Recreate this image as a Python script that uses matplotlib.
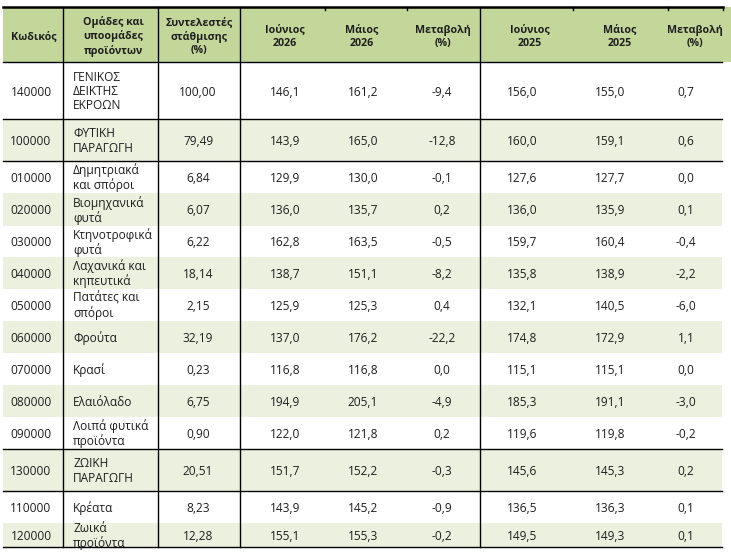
import matplotlib

matplotlib.use("Agg")

import matplotlib.pyplot as plt
from matplotlib.patches import Rectangle

plt.rcParams["font.family"] = ["Open Sans", "DejaVu Sans"]

# table content
codes = ["140000", "100000", "010000", "020000", "030000", "040000", "050000",
         "060000", "070000", "080000", "090000", "130000", "110000", "120000"]
groups = ["ΓΕΝΙΚΟΣ\nΔΕΙΚΤΗΣ\nΕΚΡΟΩΝ", "ΦΥΤΙΚΗ\nΠΑΡΑΓΩΓΗ", "Δημητριακά\nκαι σπόροι",
          "Βιομηχανικά\nφυτά", "Κτηνοτροφικά\nφυτά", "Λαχανικά και\nκηπευτικά",
          "Πατάτες και\nσπόροι", "Φρούτα", "Κρασί", "Ελαιόλαδο",
          "Λοιπά φυτικά\nπροϊόντα", "ΖΩΙΚΗ\nΠΑΡΑΓΩΓΗ", "Κρέατα", "Ζωικά\nπροϊόντα"]
weights = [100.00, 79.49, 6.84, 6.07, 6.22, 18.14, 2.15, 32.19, 0.23, 6.75,
           0.90, 20.51, 8.23, 12.28]
jun_2026 = [146.1, 143.9, 129.9, 136.0, 162.8, 138.7, 125.9, 137.0, 116.8,
            194.9, 122.0, 151.7, 143.9, 155.1]
may_2026 = [161.2, 165.0, 130.0, 135.7, 163.5, 151.1, 125.3, 176.2, 116.8,
            205.1, 121.8, 152.2, 145.2, 155.3]
chg_2026 = [-9.4, -12.8, -0.1, 0.2, -0.5, -8.2, 0.4, -22.2, 0.0, -4.9, 0.2,
            -0.3, -0.9, -0.2]
jun_2025 = [156.0, 160.0, 127.6, 136.0, 159.7, 135.8, 132.1, 174.8, 115.1,
            185.3, 119.6, 145.6, 136.5, 149.5]
may_2025 = [155.0, 159.1, 127.7, 135.9, 160.4, 138.9, 140.5, 172.9, 115.1,
            191.1, 119.8, 145.3, 136.3, 149.3]
chg_2025 = [0.7, 0.6, 0.0, 0.1, -0.4, -2.2, -6.0, 1.1, 0.0, -3.0, -0.2, 0.2,
            0.1, 0.1]
headers = ["Κωδικός", "Ομάδες και\nυποομάδες\nπροϊόντων",
           "Συντελεστές\nστάθμισης\n(%)", "Ιούνιος\n2026", "Μάιος\n2026",
           "Μεταβολή\n(%)", "Ιούνιος\n2025", "Μάιος\n2025", "Μεταβολή\n(%)"]

# layout (pixels)
W, H = 731, 555
X0, X1 = 3, 722
HEAD_TOP, HEAD_BOT = 7, 62
row_edges = [62, 119, 161, 193, 226, 257, 289, 321, 353, 385, 417, 449, 491,
             523, 547]
head_x = [34, 113, 199, 285, 362, 443, 530, 620, 695]
val_x = [31, 73, 198, 285, 363, 442, 522, 610, 686]
vlines = [63, 158, 240, 480]
top_ticks = [325, 407, 573, 668, 723]
rule_after = {0, 1, 10, 11}  # black rules under these rows

HEAD_BG = "#C4D79B"
ROW_BG = "#EBF1DE"
INK = "#1e1e1e"
FS = 8.6
FS_HEAD = 7.7


def fmt(v, nd=1):
    return f"{v:.{nd}f}".replace(".", ",")


fig = plt.figure(figsize=(W / 100, H / 100), dpi=100)
ax = fig.add_axes([0, 0, 1, 1])
ax.set_xlim(0, W)
ax.set_ylim(H, 0)
ax.axis("off")

# header
ax.add_patch(Rectangle((X0, HEAD_TOP), W - X0, HEAD_BOT - HEAD_TOP,
                       facecolor=HEAD_BG, edgecolor="none"))
for x, h in zip(head_x, headers):
    ax.text(x, (HEAD_TOP + HEAD_BOT) / 2 + 2, h, ha="center", va="center",
            fontsize=FS_HEAD, fontweight="bold", color=INK, linespacing=1.25)

# body
for i in range(len(codes)):
    top, bot = row_edges[i], row_edges[i + 1]
    if i % 2 == 1:
        ax.add_patch(Rectangle((X0, top), X1 - X0, bot - top,
                               facecolor=ROW_BG, edgecolor="none"))
    yc = (top + bot) / 2 + 1.5
    cells = [codes[i], groups[i], fmt(weights[i], 2), fmt(jun_2026[i]),
             fmt(may_2026[i]), fmt(chg_2026[i]), fmt(jun_2025[i]),
             fmt(may_2025[i]), fmt(chg_2025[i])]
    for j, (x, s) in enumerate(zip(val_x, cells)):
        ax.text(x, yc if j != 1 else (top + bot) / 2 + 1, s,
                ha="left" if j == 1 else "center", va="center",
                fontsize=FS, color=INK, linespacing=1.12)
    if i in rule_after:
        ax.plot([X0, X1], [bot, bot], color="black", lw=1.0)

# rules
ax.plot([X0, 723], [HEAD_TOP, HEAD_TOP], color="black", lw=1.8)
ax.plot([X0, X1], [HEAD_BOT, HEAD_BOT], color="black", lw=1.0)
ax.plot([X0, X1], [row_edges[-1], row_edges[-1]], color="black", lw=1.0)
for x in vlines:
    ax.plot([x, x], [HEAD_TOP, row_edges[-1]], color="black", lw=1.0)
for x in top_ticks:
    ax.plot([x, x], [HEAD_TOP, HEAD_TOP + 2.5], color="black", lw=1.0)

fig.savefig("out.png", dpi=100)
